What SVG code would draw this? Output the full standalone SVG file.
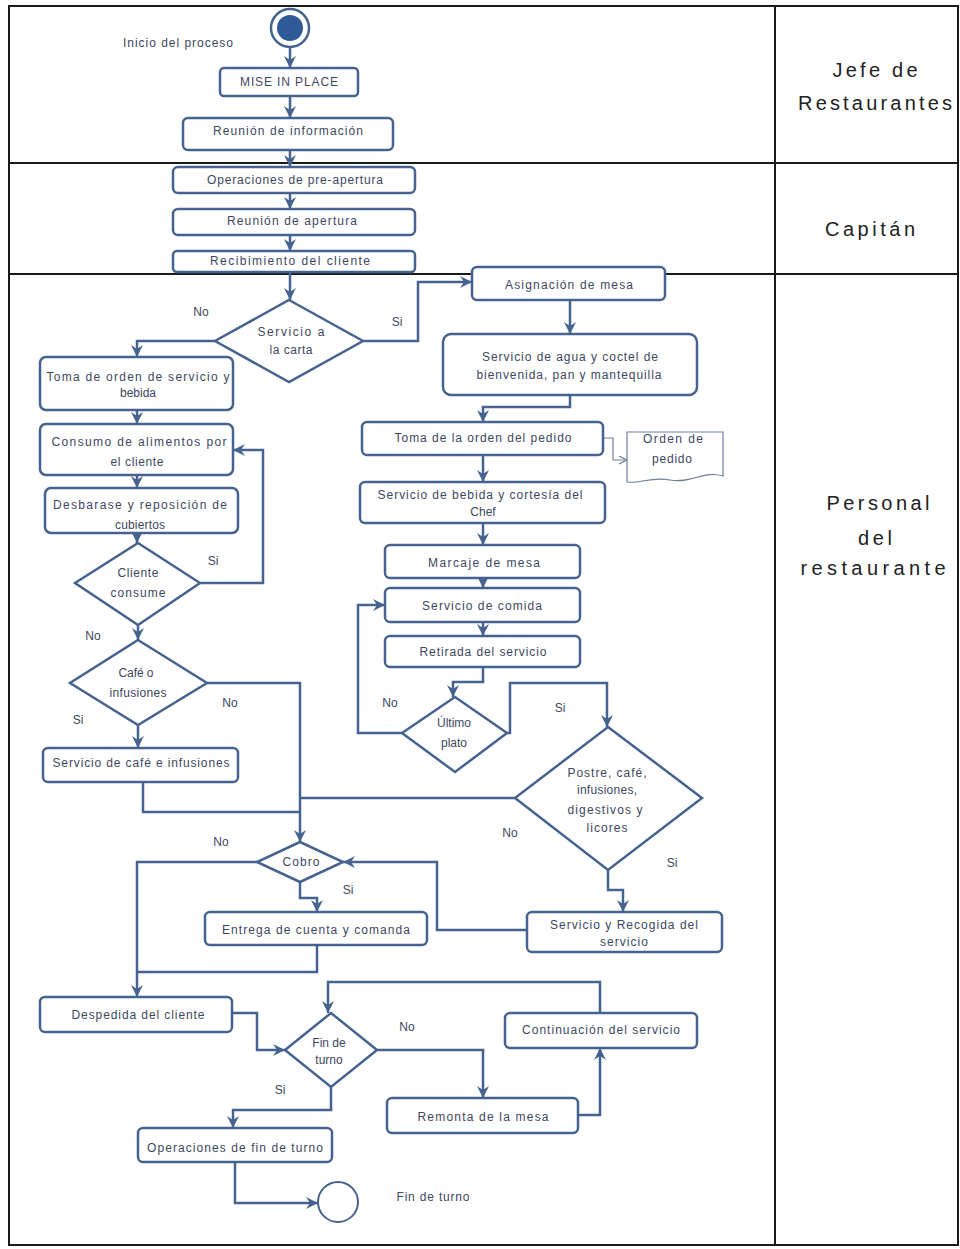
<svg xmlns="http://www.w3.org/2000/svg" width="960" height="1249" viewBox="0 0 960 1249">
  <style>
    .frame { fill: none; stroke: #1a1a1a; stroke-width: 2; }
    .box { fill: #ffffff; stroke: #46638f; stroke-width: 2.5; }
    .dia { fill: #ffffff; stroke: #46638f; stroke-width: 2.5; }
    .doc { fill: #ffffff; stroke: #6d7f9c; stroke-width: 1.2; }
    .t { font-family: "Liberation Sans", Arial, sans-serif; font-size: 12px; fill: #3d4760; text-anchor: middle; }
    .lbl { font-family: "Liberation Sans", Arial, sans-serif; font-size: 12px; fill: #3d4760; text-anchor: middle; }
    .lane { font-family: "Liberation Sans", Arial, sans-serif; font-size: 20px; fill: #222222; text-anchor: middle; }
    .c { fill: none; stroke: #46638f; stroke-width: 2.5; marker-end: url(#arr); }
    .cn { fill: none; stroke: #46638f; stroke-width: 2.5; }
    .thin { fill: none; stroke: #6d7f9c; stroke-width: 1.2; marker-end: url(#arrs); }
  </style>
  <defs>
    <marker id="arr" markerUnits="userSpaceOnUse" markerWidth="14" markerHeight="14" refX="12" refY="6" orient="auto">
      <path d="M0,0 L12,6 L0,12 L4,6 Z" fill="#46638f"/>
    </marker>
    <marker id="arrs" markerUnits="userSpaceOnUse" markerWidth="10" markerHeight="10" refX="8" refY="4" orient="auto">
      <path d="M0,0 L8,4 L0,8" fill="none" stroke="#6d7f9c" stroke-width="1.2"/>
    </marker>
  </defs>

  <rect width="960" height="1249" fill="#ffffff"/>

  <!-- swimlane table -->
  <g id="lanes">
    <rect class="frame" x="9" y="6" width="949" height="1239"/>
    <line class="frame" x1="775" y1="6" x2="775" y2="1245"/>
    <line class="frame" x1="9" y1="163" x2="958" y2="163"/>
    <line class="frame" x1="9" y1="274" x2="958" y2="274"/>
    <text class="lane" x="875" y="77" textLength="85" lengthAdjust="spacing">Jefe de</text>
    <text class="lane" x="875" y="110" textLength="154" lengthAdjust="spacing">Restaurantes</text>
    <text class="lane" x="870" y="236" textLength="90" lengthAdjust="spacing">Capitán</text>
    <text class="lane" x="878" y="510" textLength="103" lengthAdjust="spacing">Personal</text>
    <text class="lane" x="875" y="545" textLength="34" lengthAdjust="spacing">del</text>
    <text class="lane" x="873" y="575" textLength="145" lengthAdjust="spacing">restaurante</text>
  </g>

  <!-- connectors -->
  <g id="connectors">
    <path class="c" d="M290,47 V68"/>
    <path class="c" d="M290,96 V118"/>
    <path class="c" d="M290,150 V167"/>
    <path class="c" d="M290,193 V209"/>
    <path class="c" d="M290,235 V251"/>
    <path class="c" d="M290,272 V300"/>
    <path class="c" d="M215,341 H137 V357"/>
    <path class="c" d="M363,341 H418 V282 H472"/>
    <path class="c" d="M570,300 V334"/>
    <path class="c" d="M570,395 V407 H483 V422"/>
    <path class="thin" d="M603,438 H613 V460 H627"/>
    <path class="c" d="M483,455 V482"/>
    <path class="c" d="M483,523 V545"/>
    <path class="c" d="M483,578 V588"/>
    <path class="c" d="M483,622 V636"/>
    <path class="c" d="M483,667 V682 H453 V697"/>
    <path class="c" d="M402,733 H358 V605 H385"/>
    <path class="c" d="M507,733 H510 V683 H607 V727"/>
    <path class="c" d="M608,870 V890 H623 V912"/>
    <path class="cn" d="M515,798 H300"/>
    <path class="c" d="M207,683 H300 V842"/>
    <path class="cn" d="M143,782 V812 H300"/>
    <path class="c" d="M137,410 V424"/>
    <path class="c" d="M137,475 V488"/>
    <path class="c" d="M137,533 V543"/>
    <path class="c" d="M200,583 H263 V450 H233"/>
    <path class="c" d="M138,625 V640"/>
    <path class="c" d="M138,725 V748"/>
    <path class="c" d="M257,862 H137 V997"/>
    <path class="c" d="M300,882 V898 H317 V912"/>
    <path class="cn" d="M317,945 V972 H137"/>
    <path class="c" d="M527,930 H437 V862 H343"/>
    <path class="c" d="M232,1013 H257 V1050 H285"/>
    <path class="c" d="M600,1013 V982 H328 V1013"/>
    <path class="c" d="M377,1050 H483 V1098"/>
    <path class="c" d="M578,1115 H600 V1048"/>
    <path class="c" d="M331,1087 V1110 H233 V1128"/>
    <path class="c" d="M235,1162 V1203 H318"/>

    <text class="lbl" x="201" y="316">No</text>
    <text class="lbl" x="397" y="326">Si</text>
    <text class="lbl" x="213" y="565">Si</text>
    <text class="lbl" x="93" y="640">No</text>
    <text class="lbl" x="230" y="707">No</text>
    <text class="lbl" x="78" y="724">Si</text>
    <text class="lbl" x="390" y="707">No</text>
    <text class="lbl" x="560" y="712">Si</text>
    <text class="lbl" x="510" y="837">No</text>
    <text class="lbl" x="672" y="867">Si</text>
    <text class="lbl" x="221" y="846">No</text>
    <text class="lbl" x="348" y="894">Si</text>
    <text class="lbl" x="407" y="1031">No</text>
    <text class="lbl" x="280" y="1094">Si</text>
  </g>

  <!-- lane 1 -->
  <g id="inicio">
    <circle cx="290" cy="28" r="19" fill="#ffffff" stroke="#46638f" stroke-width="2.5"/>
    <circle cx="290" cy="28" r="13" fill="#2e5a97"/>
    <text class="t" x="178" y="47" textLength="110" lengthAdjust="spacing">Inicio del proceso</text>
  </g>
  <g id="mise">
    <rect class="box" x="220" y="68" width="138" height="28" rx="4"/>
    <text class="t" x="289" y="86" textLength="98" lengthAdjust="spacing">MISE IN PLACE</text>
  </g>
  <g id="reunion-info">
    <rect class="box" x="183" y="118" width="210" height="32" rx="5"/>
    <text class="t" x="288" y="135" textLength="150" lengthAdjust="spacing">Reunión de información</text>
  </g>

  <!-- lane 2 -->
  <g id="pre-apertura">
    <rect class="box" x="173" y="167" width="242" height="26" rx="5"/>
    <text class="t" x="295" y="184" textLength="176" lengthAdjust="spacing">Operaciones  de pre-apertura</text>
  </g>
  <g id="reunion-apertura">
    <rect class="box" x="173" y="209" width="242" height="26" rx="5"/>
    <text class="t" x="292" y="225" textLength="130" lengthAdjust="spacing">Reunión de apertura</text>
  </g>
  <g id="recibimiento">
    <rect class="box" x="173" y="251" width="242" height="21" rx="4"/>
    <text class="t" x="290" y="265" textLength="160" lengthAdjust="spacing">Recibimiento  del cliente</text>
  </g>

  <!-- lane 3, left branch -->
  <g id="carta">
    <polygon class="dia" points="289,300 363,341 289,382 215,341"/>
    <text class="t" x="291" y="336" textLength="67" lengthAdjust="spacing">Servicio  a</text>
    <text class="t" x="291" y="354" textLength="43" lengthAdjust="spacing">la carta</text>
  </g>
  <g id="toma-orden">
    <rect class="box" x="40" y="357" width="193" height="53" rx="6"/>
    <text class="t" x="138" y="381" textLength="183" lengthAdjust="spacing">Toma de orden  de servicio y</text>
    <text class="t" x="138" y="397">bebida</text>
  </g>
  <g id="consumo">
    <rect class="box" x="40" y="424" width="193" height="51" rx="6"/>
    <text class="t" x="139" y="446" textLength="175" lengthAdjust="spacing">Consumo  de  alimentos  por</text>
    <text class="t" x="137" y="466" textLength="53" lengthAdjust="spacing">el cliente</text>
  </g>
  <g id="desbarase">
    <rect class="box" x="45" y="488" width="193" height="45" rx="6"/>
    <text class="t" x="140" y="509" textLength="174" lengthAdjust="spacing">Desbarase  y reposición  de</text>
    <text class="t" x="140" y="529" textLength="50" lengthAdjust="spacing">cubiertos</text>
  </g>
  <g id="cliente-consume">
    <polygon class="dia" points="138,543 200,583 138,625 75,583"/>
    <text class="t" x="138" y="577" textLength="41" lengthAdjust="spacing">Cliente</text>
    <text class="t" x="138" y="597" textLength="55" lengthAdjust="spacing">consume</text>
  </g>
  <g id="cafe">
    <polygon class="dia" points="138,640 207,683 138,725 70,683"/>
    <text class="t" x="136" y="677" textLength="35" lengthAdjust="spacing">Café o</text>
    <text class="t" x="138" y="697" textLength="57" lengthAdjust="spacing">infusiones</text>
  </g>
  <g id="servicio-cafe">
    <rect class="box" x="43" y="748" width="195" height="34" rx="5"/>
    <text class="t" x="141" y="767" textLength="177" lengthAdjust="spacing">Servicio  de  café  e infusiones</text>
  </g>

  <!-- lane 3, right branch -->
  <g id="asignacion">
    <rect class="box" x="472" y="267" width="193" height="33" rx="5"/>
    <text class="t" x="569" y="289" textLength="128" lengthAdjust="spacing">Asignación  de mesa</text>
  </g>
  <g id="agua">
    <rect class="box" x="443" y="334" width="254" height="61" rx="8"/>
    <text class="t" x="570" y="361" textLength="176" lengthAdjust="spacing">Servicio de agua y coctel de</text>
    <text class="t" x="569" y="379" textLength="185" lengthAdjust="spacing">bienvenida,  pan y mantequilla</text>
  </g>
  <g id="toma-pedido">
    <rect class="box" x="362" y="422" width="241" height="33" rx="5"/>
    <text class="t" x="483" y="442" textLength="177" lengthAdjust="spacing">Toma de la orden  del pedido</text>
  </g>
  <g id="orden-pedido">
    <path class="doc" d="M627,432 H723 V476 C705,470 690,484 670,480 C652,476 640,484 627,482 Z"/>
    <text class="t" x="673" y="443" textLength="60" lengthAdjust="spacing">Orden  de</text>
    <text class="t" x="672" y="463" textLength="40" lengthAdjust="spacing">pedido</text>
  </g>
  <g id="bebida">
    <rect class="box" x="360" y="482" width="245" height="41" rx="5"/>
    <text class="t" x="480" y="499" textLength="205" lengthAdjust="spacing">Servicio  de  bebida  y  cortesía  del</text>
    <text class="t" x="483" y="516">Chef</text>
  </g>
  <g id="marcaje">
    <rect class="box" x="385" y="545" width="195" height="33" rx="5"/>
    <text class="t" x="484" y="567" textLength="112" lengthAdjust="spacing">Marcaje de mesa</text>
  </g>
  <g id="comida">
    <rect class="box" x="385" y="588" width="195" height="34" rx="5"/>
    <text class="t" x="482" y="610" textLength="120" lengthAdjust="spacing">Servicio  de comida</text>
  </g>
  <g id="retirada">
    <rect class="box" x="385" y="636" width="195" height="31" rx="5"/>
    <text class="t" x="483" y="656" textLength="127" lengthAdjust="spacing">Retirada  del servicio</text>
  </g>
  <g id="ultimo">
    <polygon class="dia" points="455,697 507,733 455,772 402,733"/>
    <text class="t" x="454" y="727">Último</text>
    <text class="t" x="454" y="747">plato</text>
  </g>
  <g id="postre">
    <polygon class="dia" points="608,727 702,798 608,870 515,798"/>
    <text class="t" x="607" y="777" textLength="79" lengthAdjust="spacing">Postre,  café,</text>
    <text class="t" x="607" y="794" textLength="60" lengthAdjust="spacing">infusiones,</text>
    <text class="t" x="605" y="814" textLength="75" lengthAdjust="spacing">digestivos  y</text>
    <text class="t" x="607" y="832" textLength="41" lengthAdjust="spacing">licores</text>
  </g>

  <!-- closing -->
  <g id="cobro">
    <polygon class="dia" points="300,842 343,862 300,882 257,862"/>
    <text class="t" x="301" y="866" textLength="37" lengthAdjust="spacing">Cobro</text>
  </g>
  <g id="entrega">
    <rect class="box" x="205" y="912" width="222" height="33" rx="5"/>
    <text class="t" x="316" y="934" textLength="188" lengthAdjust="spacing">Entrega  de cuenta  y comanda</text>
  </g>
  <g id="recogida">
    <rect class="box" x="527" y="912" width="195" height="40" rx="5"/>
    <text class="t" x="624" y="929" textLength="148" lengthAdjust="spacing">Servicio y Recogida del</text>
    <text class="t" x="624" y="946" textLength="48" lengthAdjust="spacing">servicio</text>
  </g>
  <g id="despedida">
    <rect class="box" x="40" y="997" width="192" height="35" rx="5"/>
    <text class="t" x="138" y="1019" textLength="133" lengthAdjust="spacing">Despedida  del cliente</text>
  </g>
  <g id="fin-turno">
    <polygon class="dia" points="331,1013 377,1050 331,1087 285,1050"/>
    <text class="t" x="329" y="1047">Fin de</text>
    <text class="t" x="329" y="1064">turno</text>
  </g>
  <g id="continuacion">
    <rect class="box" x="505" y="1013" width="192" height="35" rx="5"/>
    <text class="t" x="601" y="1034" textLength="158" lengthAdjust="spacing">Continuación  del servicio</text>
  </g>
  <g id="remonta">
    <rect class="box" x="387" y="1098" width="191" height="35" rx="5"/>
    <text class="t" x="483" y="1121" textLength="131" lengthAdjust="spacing">Remonta  de la mesa</text>
  </g>
  <g id="operaciones-fin">
    <rect class="box" x="138" y="1128" width="194" height="34" rx="5"/>
    <text class="t" x="235" y="1152" textLength="176" lengthAdjust="spacing">Operaciones  de fin de turno</text>
  </g>
  <g id="fin">
    <circle cx="338" cy="1202" r="20" fill="#ffffff" stroke="#46638f" stroke-width="2"/>
    <text class="t" x="433" y="1201" textLength="73" lengthAdjust="spacing">Fin de turno</text>
  </g>
</svg>
